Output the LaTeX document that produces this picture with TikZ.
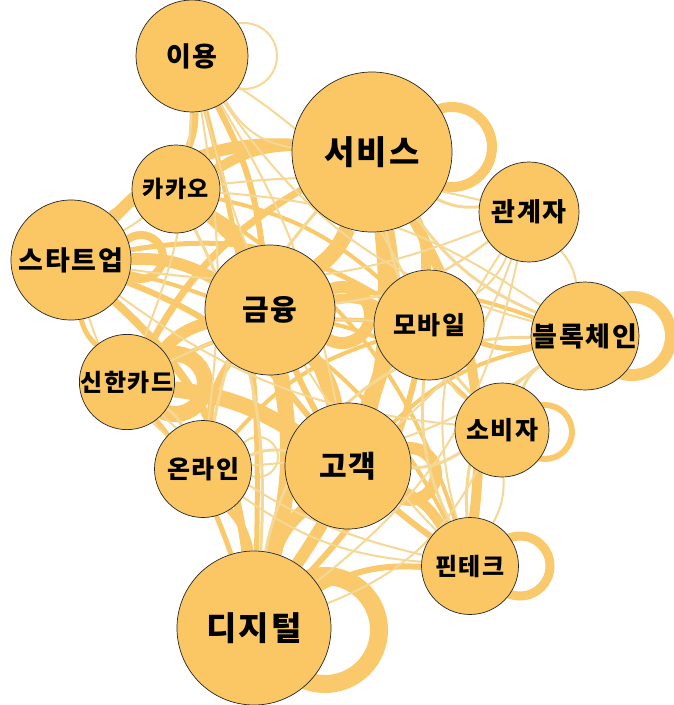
\documentclass[tikz,border=0pt]{standalone}
\usepackage{fontspec}
\newfontfamily\kr{Noto Sans CJK KR}[LetterSpace=6]
\usetikzlibrary{calc}
\pgfdeclarelayer{bg}
\pgfsetlayers{bg,main}
\definecolor{nodefill}{RGB}{250,199,100}
\definecolor{edgethick}{RGB}{249,201,108}
\definecolor{edgethin}{RGB}{245,215,150}
\tikzset{
  word/.style={circle, draw=black!85, line width=0.7pt, fill=nodefill, inner sep=0pt},
  edge/.style={draw=edgethick},
  thinedge/.style={draw=edgethin},
  selfloop/.style={draw=edgethick},
}
\begin{document}
\begin{tikzpicture}[x=1pt,y=-1pt]
\useasboundingbox (0,0) rectangle (673,705);
% nodes
\node[word, minimum size=112pt, font=\kr\bfseries\fontsize{27}{27}\selectfont] (iy) at (192,56) {이용};
\node[word, minimum size=160pt, font=\kr\bfseries\fontsize{33}{33}\selectfont] (sv) at (372,152) {서비스};
\node[word, minimum size=88pt, font=\kr\bfseries\fontsize{23}{23}\selectfont] (kk) at (176,189) {카카오};
\node[word, minimum size=100pt, font=\kr\bfseries\fontsize{26}{26}\selectfont] (gg) at (529,212) {관계자};
\node[word, minimum size=120pt, font=\kr\bfseries\fontsize{27}{27}\selectfont] (st) at (71,260) {스타트업};
\node[word, minimum size=130pt, font=\kr\bfseries\fontsize{29}{29}\selectfont] (gy) at (270,310) {금융};
\node[word, minimum size=110pt, font=\kr\bfseries\fontsize{25}{25}\selectfont] (mb) at (429,325) {모바일};
\node[word, minimum size=108pt, font=\kr\bfseries\fontsize{27}{27}\selectfont] (bc) at (585,336) {블록체인};
\node[word, minimum size=83pt, font=\kr\bfseries\fontsize{24}{24}\selectfont] (sh) at (127,382) {신한카드};
\node[word, minimum size=94pt, font=\kr\bfseries\fontsize{25}{25}\selectfont] (sb) at (502,430) {소비자};
\node[word, minimum size=97pt, font=\kr\bfseries\fontsize{25}{25}\selectfont] (ol) at (203,469) {온라인};
\node[word, minimum size=126pt, font=\kr\bfseries\fontsize{30}{30}\selectfont] (gk) at (348,466) {고객};
\node[word, minimum size=97pt, font=\kr\bfseries\fontsize{24}{24}\selectfont] (ft) at (470,566) {핀테크};
\node[word, minimum size=154pt, font=\kr\bfseries\fontsize{33}{33}\selectfont] (dg) at (254,628) {디지털};
\begin{pgfonlayer}{bg}
% self loops
\draw[thinedge, line width=2pt] ($(iy.center)+(52,0)$) circle (33);
\draw[selfloop, line width=10pt] ($(sv.center)+(80,-5)$) circle (40);
\draw[selfloop, line width=12pt] ($(bc.center)+(47,0)$) circle (39);
\draw[selfloop, line width=6pt] ($(sb.center)+(43,2)$) circle (27);
\draw[selfloop, line width=9pt] ($(ft.center)+(50,0)$) circle (30);
\draw[selfloop, line width=18pt] ($(dg.center)+(71,2)$) circle (54);
\draw[selfloop, line width=8pt] ($(st.center)+(70,-3)$) circle (22);
\draw[selfloop, line width=16pt] ($(sh.center)+(48,2)$) circle (30);
\draw[thinedge, line width=2pt] ($(ol.center)+(55,-12)$) circle (20);
\draw[selfloop, line width=12pt] ($(gy.center)+(72,5)$) circle (28);
\draw[selfloop, line width=12pt] ($(gk.center)+(62,8)$) circle (26);
% thick edges
\foreach \a/\b/\w/\bd in {
  sv/gy/16/15, gy/dg/16/12, gy/gk/14/15, sv/gk/15/15, sv/dg/12/20, dg/gk/13/15,
  st/gy/12/15, sh/gk/16/12, sh/gy/12/15, kk/gy/10/15, kk/sv/10/15, st/sv/12/25,
  sv/mb/10/15, gy/mb/9/15, gk/ft/10/15, sv/ft/10/18, dg/ft/6/15, gk/mb/8/15,
  st/dg/8/20, iy/gy/6/10, iy/kk/7/10, ol/gy/7/15, ol/dg/7/15, sh/sv/7/15,
  kk/gk/6/15, mb/dg/6/15, ft/gy/6/15, bc/mb/5/15, st/gk/6/15, st/kk/6/15,
  sh/dg/5/10, iy/dg/5/8, sh/st/5/15, gk/bc/4/15, gy/bc/4/15, st/mb/5/20,
  kk/mb/4/15, sh/mb/4/15, ol/mb/4/15, st/ft/4/25, kk/ft/4/20, gy/sb/4/15}
  { \draw[edge, line width=\w pt] (\a) to[bend left=\bd] (\b); }
% thin edges
\foreach \a/\b/\w/\bd in {
  iy/sv/2/-25, iy/st/2/30, iy/gk/2/10, iy/mb/2/15, iy/bc/2/-20, iy/sh/2/10, iy/ol/2/8,
  gg/sv/3/15, gg/gy/2.5/15, gg/gk/2/15, gg/mb/2/15, gg/bc/2/15, gg/st/2/15, gg/dg/2/20,
  bc/sv/3/15, bc/ft/3/-30, bc/dg/3/-40, sb/gk/3/15, sb/sv/3/15,
  sb/mb/2/15, sb/bc/3/15, sb/ft/2/15, sb/dg/2/20, ft/mb/3/15, ol/sv/3/15, ol/st/2/15,
  ol/gk/3/15, kk/dg/3/15, ft/ol/2/15, ft/sh/2/15, mb/sh/2/-15, kk/bc/2/15,
  sh/ol/3/15, gg/ft/2/-25, iy/ft/2/-15, gg/kk/2/-10, sb/st/2/15, bc/ol/2/15}
  { \draw[thinedge, line width=\w pt] (\a) to[bend left=\bd] (\b); }
\end{pgfonlayer}
\end{tikzpicture}
\end{document}
